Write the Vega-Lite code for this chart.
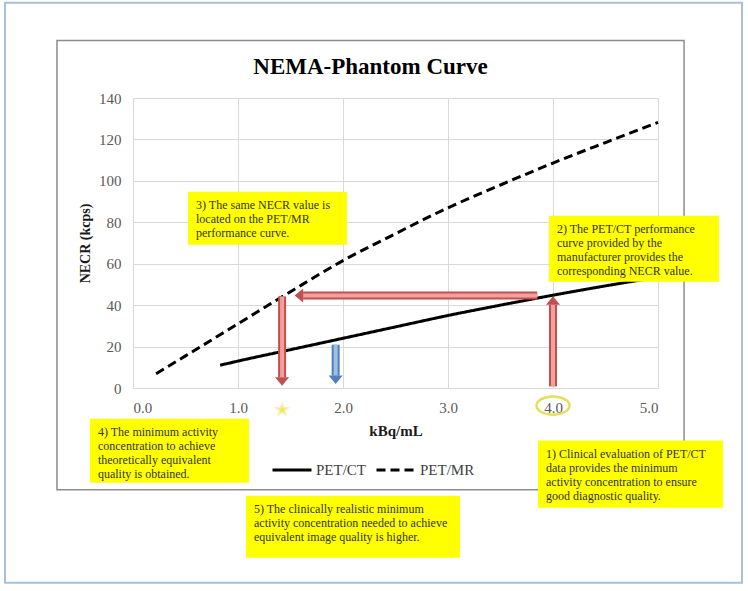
{
  "$schema": "https://vega.github.io/schema/vega-lite/v6.json",
  "width": 525,
  "height": 290,
  "autosize": {"type": "none"},
  "padding": {"left": 133, "top": 98, "right": 90, "bottom": 203},
  "background": "white",
  "title": {"text": "NEMA-Phantom Curve", "font": "Liberation Serif", "fontSize": 23, "fontWeight": "bold", "color": "#000000", "anchor": "middle", "frame": "group", "dx": -25, "dy": 95, "offset": 0, "baseline": "alphabetic"},
  "config": {
    "view": {"stroke": null},
    "axis": {"grid": true, "gridColor": "#d9d9d9", "gridWidth": 1, "domain": false, "ticks": false, "labelFont": "Liberation Serif", "labelFontSize": 15, "labelColor": "#595959", "labelPadding": 12, "titleFont": "Liberation Serif", "titleFontWeight": "bold", "titleColor": "#1a1a1a"}
  },
  "datasets": {
    "curves": [
      {"series": "PET/CT", "x": 0.83, "y": 11},
      {"series": "PET/CT", "x": 1.0, "y": 13},
      {"series": "PET/CT", "x": 1.5, "y": 18.5},
      {"series": "PET/CT", "x": 2.0, "y": 24},
      {"series": "PET/CT", "x": 2.5, "y": 29.5},
      {"series": "PET/CT", "x": 3.0, "y": 35},
      {"series": "PET/CT", "x": 3.5, "y": 40},
      {"series": "PET/CT", "x": 4.0, "y": 44.8},
      {"series": "PET/CT", "x": 4.5, "y": 49.3},
      {"series": "PET/CT", "x": 5.0, "y": 53.5},
      {"series": "PET/MR", "x": 0.22, "y": 6.9},
      {"series": "PET/MR", "x": 0.5, "y": 15.5},
      {"series": "PET/MR", "x": 1.0, "y": 31},
      {"series": "PET/MR", "x": 1.5, "y": 46.5},
      {"series": "PET/MR", "x": 2.0, "y": 61.5},
      {"series": "PET/MR", "x": 2.5, "y": 74.5},
      {"series": "PET/MR", "x": 3.0, "y": 87},
      {"series": "PET/MR", "x": 3.5, "y": 98},
      {"series": "PET/MR", "x": 4.0, "y": 108.6},
      {"series": "PET/MR", "x": 4.5, "y": 118.5},
      {"series": "PET/MR", "x": 5.0, "y": 128.2}
    ],
    "notes": [
      {"x1": 3.857, "x2": 5.619, "y1": -25.4, "y2": -57.8, "label": "1) Clinical evaluation of PET/CT\ndata provides the minimum\nactivity concentration to ensure\ngood diagnostic quality."},
      {"x1": 3.962, "x2": 5.581, "y1": 83.2, "y2": 51.3, "label": "2) The PET/CT performance\ncurve provided by the\nmanufacturer provides the\ncorresponding NECR value."},
      {"x1": 0.524, "x2": 2.038, "y1": 94.8, "y2": 69.2, "label": "3) The same NECR value is\nlocated on the PET/MR\nperformance curve."},
      {"x1": -0.41, "x2": 1.105, "y1": -14.8, "y2": -45.7, "label": "4) The minimum activity\nconcentration to achieve\ntheoretically equivalent\nquality is obtained."},
      {"x1": 1.076, "x2": 3.114, "y1": -52.0, "y2": -81.9, "label": "5) The clinically realistic minimum\nactivity concentration needed to achieve\nequivalent image quality is higher."}
    ],
    "arrows": [
      {"step": "theory", "dir": "up", "x1": 4.0, "y1": 0.8, "x2": 4.0, "y2": 40.2},
      {"step": "theory", "dir": "left", "x1": 3.85, "y1": 44.6, "x2": 1.62, "y2": 44.6},
      {"step": "theory", "dir": "down", "x1": 1.42, "y1": 44.2, "x2": 1.42, "y2": 5.2},
      {"step": "clinical", "dir": "down", "x1": 1.93, "y1": 20.9, "x2": 1.93, "y2": 6.0}
    ],
    "markers": [
      {"kind": "star", "x": 1.42, "y": -10.5},
      {"kind": "ring", "x": 4.0, "y": -8.5}
    ]
  },
  "layer": [
    {
      "data": {"values": [{}]},
      "mark": {"type": "rect", "filled": false, "stroke": "#a9c0dc", "strokeWidth": 2, "clip": false},
      "encoding": {
        "x": {"datum": -1.219, "type": "quantitative", "scale": {"domain": [0, 5], "nice": false, "zero": false}, "axis": {"values": [0, 1, 2, 3, 4, 5], "format": ".1f", "title": "kBq/mL", "titleFontSize": 15, "titlePadding": 8}},
        "x2": {"datum": 5.8},
        "y": {"datum": 186.0, "type": "quantitative", "scale": {"domain": [0, 140], "nice": false, "zero": false}, "axis": {"values": [0, 20, 40, 60, 80, 100, 120, 140], "title": "NECR (kcps)", "titleFontSize": 14, "titleX": -48, "titleY": 145, "titleAngle": -90, "titleAlign": "center", "titleBaseline": "middle"}},
        "y2": {"datum": -94.0}
      }
    },
    {
      "data": {"values": [{}]},
      "mark": {"type": "rect", "filled": false, "stroke": "#8c8c8c", "strokeWidth": 1.5, "clip": false},
      "encoding": {
        "x": {"datum": -0.724, "type": "quantitative"},
        "x2": {"datum": 5.248},
        "y": {"datum": 167.7, "type": "quantitative"},
        "y2": {"datum": -49.1}
      }
    },
    {
      "data": {"name": "curves"},
      "mark": {"type": "line", "color": "#000000", "strokeWidth": 3, "interpolate": "monotone"},
      "encoding": {
        "x": {"field": "x", "type": "quantitative"},
        "y": {"field": "y", "type": "quantitative"},
        "strokeDash": {"field": "series", "type": "nominal", "scale": {"domain": ["PET/CT", "PET/MR"], "range": [[1, 0], [9, 5]]},
          "legend": {"orient": "none", "legendX": 138, "legendY": 351, "direction": "horizontal", "title": null, "symbolType": "stroke", "symbolSize": 1521, "symbolStrokeWidth": 3, "symbolStrokeColor": "#000000", "labelFont": "Liberation Serif", "labelFontSize": 15, "labelColor": "#404040", "labelOffset": 3, "columnPadding": 3}}
      }
    },
    {
      "data": {"name": "notes"},
      "mark": {"type": "rect", "fill": "#ffff00", "clip": false},
      "encoding": {
        "x": {"field": "x1", "type": "quantitative"},
        "x2": {"field": "x2"},
        "y": {"field": "y1", "type": "quantitative"},
        "y2": {"field": "y2"}
      }
    },
    {
      "data": {"name": "notes"},
      "mark": {"type": "text", "align": "left", "baseline": "top", "dx": 8, "dy": 8, "font": "Liberation Serif", "fontSize": 12, "lineHeight": 14, "lineBreak": "\n", "color": "#333333", "clip": false},
      "encoding": {
        "x": {"field": "x1", "type": "quantitative"},
        "y": {"field": "y1", "type": "quantitative"},
        "text": {"field": "label"}
      }
    },
    {
      "data": {"name": "arrows"},
      "mark": {"type": "rule", "strokeWidth": 8, "strokeCap": "butt"},
      "encoding": {
        "x": {"field": "x1", "type": "quantitative"},
        "x2": {"field": "x2"},
        "y": {"field": "y1", "type": "quantitative"},
        "y2": {"field": "y2"},
        "stroke": {"field": "step", "type": "nominal", "scale": {"domain": ["theory", "clinical"], "range": ["#c0504d", "#4f81bd"]}, "legend": null}
      }
    },
    {
      "data": {"name": "arrows"},
      "mark": {"type": "rule", "strokeWidth": 4, "strokeCap": "butt"},
      "encoding": {
        "x": {"field": "x1", "type": "quantitative"},
        "x2": {"field": "x2"},
        "y": {"field": "y1", "type": "quantitative"},
        "y2": {"field": "y2"},
        "color": {"field": "step", "type": "nominal", "scale": {"domain": ["theory", "clinical"], "range": ["#f2a09e", "#9fbfe3"]}, "legend": null}
      }
    },
    {
      "data": {"name": "arrows"},
      "mark": {"type": "point", "filled": true, "opacity": 1, "size": 196},
      "encoding": {
        "x": {"field": "x2", "type": "quantitative"},
        "y": {"field": "y2", "type": "quantitative"},
        "fill": {"field": "step", "type": "nominal", "scale": {"domain": ["theory", "clinical"], "range": ["#c0504d", "#4f81bd"]}, "legend": null},
        "shape": {"field": "dir", "type": "nominal", "scale": {"domain": ["down", "up", "left"], "range": ["M-1,0L1,0L0,1.2Z", "M-1,0L1,0L0,-1.2Z", "M0,-1L0,1L-1.2,0Z"]}, "legend": null}
      }
    },
    {
      "data": {"name": "markers"},
      "transform": [{"filter": "datum.kind === 'star'"}],
      "mark": {"type": "point", "filled": true, "opacity": 1, "size": 185, "fill": "#f3e94e", "stroke": "#f6f2c0", "strokeWidth": 1.5, "shape": "M0,-1L0.235,-0.324L0.951,-0.309L0.38,0.124L0.588,0.809L0,0.4L-0.588,0.809L-0.38,0.124L-0.951,-0.309L-0.235,-0.324Z", "clip": false},
      "encoding": {
        "x": {"field": "x", "type": "quantitative"},
        "y": {"field": "y", "type": "quantitative"}
      }
    },
    {
      "data": {"name": "markers"},
      "transform": [{"filter": "datum.kind === 'ring'"}],
      "mark": {"type": "point", "filled": false, "opacity": 1, "size": 1089, "stroke": "#e4e05a", "strokeWidth": 2.5, "shape": "M-1,0A1,0.55,0,1,1,1,0A1,0.55,0,1,1,-1,0Z", "clip": false},
      "encoding": {
        "x": {"field": "x", "type": "quantitative"},
        "y": {"field": "y", "type": "quantitative"}
      }
    }
  ]
}
